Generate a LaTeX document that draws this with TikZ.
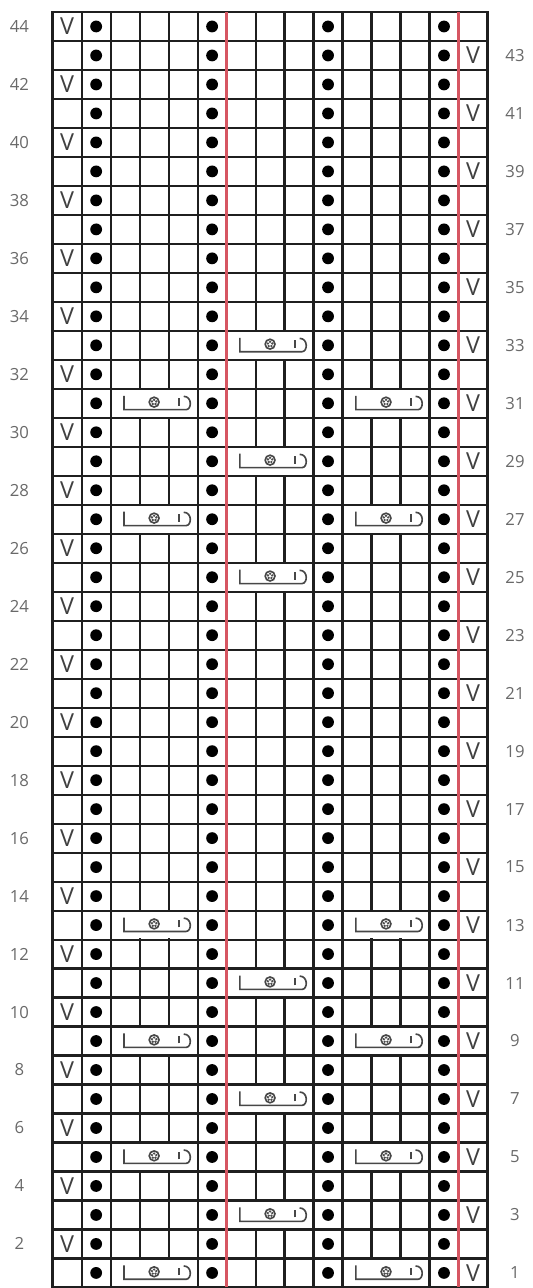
\documentclass[tikz,border=0pt]{standalone}
\usepackage{fontspec}
\setmainfont{Open Sans}
\usepackage{xcolor}
\definecolor{repred}{RGB}{214,86,98}
\definecolor{numgray}{RGB}{105,105,105}

\tikzset{
  cablesign/.pic={
    \draw[cableline] (0.46,0.76) -- (0.46,0.28) -- (2.6,0.28)
      .. controls (2.8,0.28) and (2.82,0.74) .. (2.52,0.74);
    \draw[cableline] (2.36,0.42) -- (2.36,0.68);
    % little flower in the middle
    \draw[cableline] (1.5,0.54) circle (0.17);
    \foreach \a in {90,162,234,306,378}
      \fill[black!70] (1.5,0.54) ++(\a:0.08) circle (0.045);
  }
}

\begin{document}
\begin{tikzpicture}[x=0.5cm,y=0.5cm,
  gridline/.style={line width=1.05pt, draw=black!88},
  purl/.style={circle, fill=black, inner sep=0pt, minimum size=5.8pt},
  slipst/.style={font=\fontsize{11.5}{13}\selectfont, text=black!75, inner sep=0pt},
  rownum/.style={font=\fontsize{8.2}{10}\selectfont, text=numgray, inner sep=0pt},
  cableline/.style={line width=0.8pt, draw=black!72}]
\useasboundingbox (-1.817,-0.02) rectangle (16.56,44.414);

% grid
\draw[gridline, step=1] (0,0) grid (15,44);
\draw[line width=1.15pt, draw=black!88] (0,0) rectangle (15,44);

% cables: side pair and centre, alternating
\foreach \r in {1,5,9,13,27,31} {
  \foreach \x in {2,10} {
    \fill[white] (\x+0.04,\r-0.96) rectangle (\x+2.96,\r-0.04);
    \pic at (\x,\r-1) {cablesign};
  }
}
\foreach \r in {3,7,11,25,29,33} {
  \fill[white] (6.04,\r-0.96) rectangle (8.96,\r-0.04);
  \pic at (6,\r-1) {cablesign};
}

% repeat lines
\draw[repred, line width=1.1pt] (6,0) -- (6,44);
\draw[repred, line width=1.1pt] (14,0) -- (14,44);

% purl dots
\foreach \r in {1,...,44}
  \foreach \c in {2,6,10,14}
    \node[purl] (p-\c-\r) at (\c-0.5,\r-0.5) {};

% slipped stitches and row numbers
\foreach \r in {2,4,...,44} {
  \node[slipst] (v-\r) at (0.5,\r-0.5) {V};
  \node[rownum] (n-\r) at (-1.15,\r-0.5) {\r};
}
\foreach \r in {1,3,...,43} {
  \node[slipst] (v-\r) at (14.5,\r-0.5) {V};
  \node[rownum] (n-\r) at (15.95,\r-0.5) {\r};
}
\end{tikzpicture}
\end{document}
